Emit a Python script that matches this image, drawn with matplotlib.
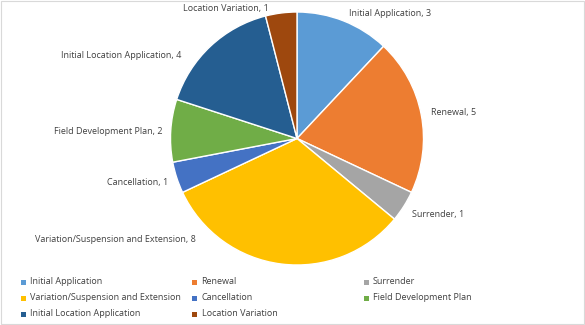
import matplotlib.pyplot as plt
from matplotlib.patches import Rectangle

categories = ["Initial Application", "Renewal", "Surrender",
              "Variation/Suspension and Extension", "Cancellation",
              "Field Development Plan", "Initial Location Application",
              "Location Variation"]
counts = [3, 5, 1, 8, 1, 2, 4, 1]
colors = ["#5B9BD5", "#ED7D31", "#A5A5A5", "#FFC000",
          "#4472C4", "#70AD47", "#255E91", "#9E480E"]

# label anchor (x, y in pixels from top-left) and horizontal alignment
label_pos = [(349, 13, "left"), (431, 113, "left"), (412, 214, "left"),
             (196, 240, "right"), (168, 182, "right"), (163, 131, "right"),
             (181, 55, "right"), (269, 8, "right")]

W, H = 585, 325
fig = plt.figure(figsize=(W / 100, H / 100), dpi=100)
ax = fig.add_axes([0, 0, 1, 1])

font = dict(family="Open Sans", size=6.5, color="#404040")

# pie drawn with y flipped, so go counter-clockwise in data to read clockwise on screen
wedges, _ = ax.pie(counts, colors=colors, startangle=-90, counterclock=True,
                   center=(297, 138.5), radius=126.5, frame=True,
                   wedgeprops=dict(edgecolor="white", linewidth=1.0))
ax.set_xlim(0, W)
ax.set_ylim(H, 0)
ax.set_aspect("equal")
ax.axis("off")

for name, n, (x, y, ha) in zip(categories, counts, label_pos):
    ax.text(x, y, f"{name}, {n}", ha=ha, va="center", **font)

# legend in three fixed-width columns
for i, (name, c) in enumerate(zip(categories, colors)):
    col, row = i % 3, i // 3
    lx = 23 + 171.5 * col
    ly = 282 + 16 * row
    ax.add_patch(Rectangle((lx - 2.5, ly - 2.5), 5, 5, facecolor=c, edgecolor="none"))
    ax.text(lx + 7, ly, name, ha="left", va="center", **font)

ax.add_patch(Rectangle((0.5, 0.5), W - 1.5, H - 1.5, facecolor="none",
                       edgecolor="#D9D9D9", linewidth=0.8))

fig.savefig("out.png", dpi=100)
